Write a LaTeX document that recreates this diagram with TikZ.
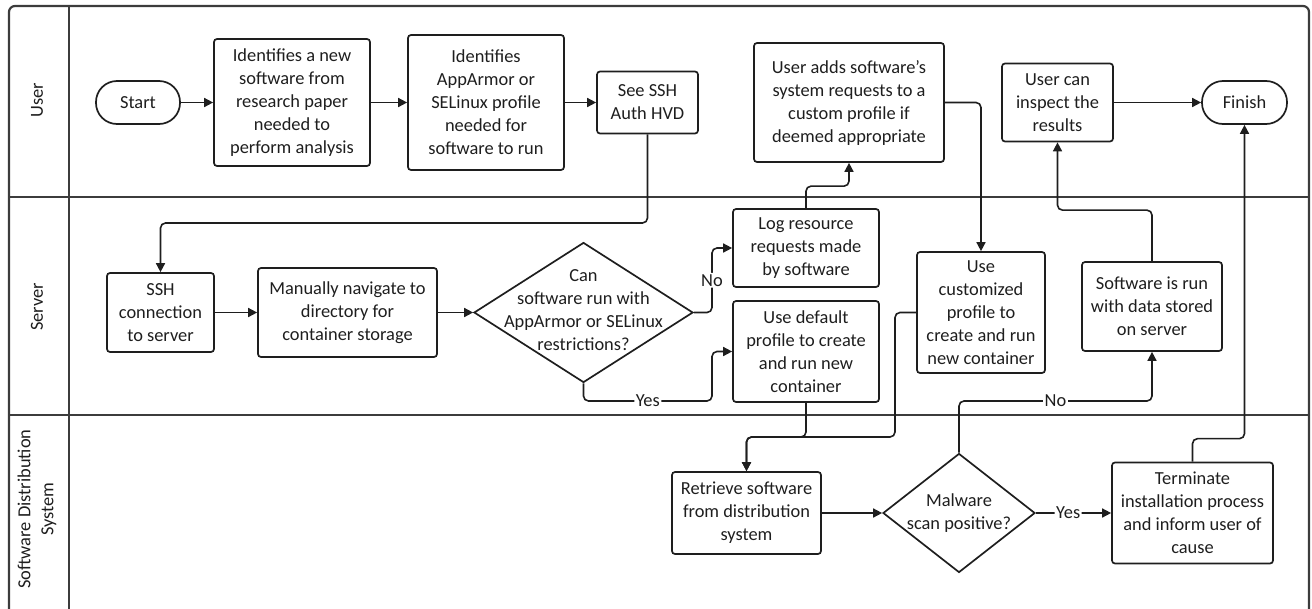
\documentclass[tikz,border=0pt]{standalone}
\usepackage{fontspec}
\setmainfont{Carlito}
\usetikzlibrary{arrows.meta,shapes.geometric}

\definecolor{ink}{HTML}{1E1E1E}
\definecolor{lanegray}{HTML}{3C3C3C}

\tikzset{
  base/.style={draw=ink, line width=1.7pt, align=center, text=ink, inner sep=2pt,
    font=\fontsize{18.4}{23}\selectfont},
  box/.style 2 args={base, rectangle, rounded corners=3pt,
    minimum width=#1pt, minimum height=#2pt},
  terminal/.style={base, rectangle, rounded corners=21pt,
    minimum width=85pt, minimum height=43pt},
  decision/.style 2 args={base, diamond, inner sep=0pt,
    minimum width=#1pt, minimum height=#2pt},
  plain/.style={align=center, text=ink, inner sep=0pt,
    font=\fontsize{18.4}{23}\selectfont},
  conn/.style={draw=ink, line width=1.6pt, rounded corners=5pt,
    -{Triangle[length=9pt,width=9pt]}},
  lbl/.style={fill=white, inner sep=1.5pt, text=ink,
    font=\fontsize{18.4}{23}\selectfont},
  lane/.style={draw=lanegray, line width=2.2pt},
  lanetitle/.style={rotate=90, align=center, text=ink,
    font=\fontsize{18.4}{23}\selectfont},
}

\begin{document}
\begin{tikzpicture}[x=1pt, y=-1pt]
  \useasboundingbox (0,0) rectangle (1312,608);
  \begin{scope}
    \clip (0,0) rectangle (1312,608);
    % swimlane frame and separators
    \draw[lane, rounded corners=6pt] (9,6) rectangle (1309,640);
    \draw[lane] (69,6) -- (69,640);
    \draw[lane] (9,197) -- (1309,197);
    \draw[lane] (9,415) -- (1309,415);
  \end{scope}

  % lane titles
  \node[lanetitle] (laneUser)   at (37,100) {User};
  \node[lanetitle] (laneServer) at (37,307) {Server};
  \node[lanetitle] (laneSDS)    at (37,509) {Software Distribution\\System};

  % user lane
  \node[terminal, minimum width=84pt] (start) at (138,102.5) {Start};
  \node[box={156}{127}] (ident) at (292,102.5)
    {Identifies a new\\software from\\research paper\\needed to\\perform analysis};
  \node[box={156}{135}] (profile) at (486,102.5)
    {Identifies\\AppArmor or\\SELinux profile\\needed for\\software to run};
  \node[box={101}{62}] (seessh) at (647.5,102.5) {See SSH\\Auth HVD};
  \node[box={190}{119}] (useradd) at (849,102.5)
    {User adds software's\\system requests to a\\custom profile if\\deemed appropriate};
  \node[box={111}{78}] (inspect) at (1057.5,102.5) {User can\\inspect the\\results};
  \node[terminal] (finish) at (1244.5,102.5) {Finish};

  % server lane
  \node[box={107}{79}] (sshconn) at (160.5,312.5) {SSH\\connection\\to server};
  \node[box={179}{89}] (nav) at (347.5,312.5)
    {Manually navigate to\\directory for\\container storage};
  \node[decision={219}{140}] (canrun) at (583.5,312.5) {};
  \node[plain] (canrunText) at (583.5,310)
    {Can\\software run with\\AppArmor or SELinux\\restrictions?};
  \node[box={146}{78}] (logres) at (806,248)
    {Log resource\\requests made\\by software};
  \node[box={146}{101}] (usedef) at (806,351.5)
    {Use default\\profile to create\\and run new\\container};
  \node[box={128}{121}] (usecust) at (981,312.5)
    {Use\\customized\\profile to\\create and run\\new container};
  \node[box={140}{89}] (swrun) at (1152,306.5)
    {Software is run\\with data stored\\on server};

  % software distribution lane
  \node[box={149}{82}] (retrieve) at (746.5,513)
    {Retrieve software\\from distribution\\system};
  \node[decision={152}{119}] (malware) at (959,513) {};
  \node[plain] (malwareText) at (959,513) {Malware\\scan positive?};
  \node[box={161}{101}] (terminate) at (1192.5,513)
    {Terminate\\installation process\\and inform user of\\cause};

  % turning levels of the routed connectors
  \coordinate (sshLevel) at (0,223);
  \coordinate (noX) at (712,0);
  \coordinate (yesLevel) at (0,401);
  \coordinate (mergeLevel) at (0,437);
  \coordinate (custX) at (895,0);

  % connectors
  \draw[conn] (start) -- (ident);
  \draw[conn] (ident) -- (profile);
  \draw[conn] (profile) -- (seessh);
  \draw[conn] (seessh.south) |- (sshLevel -| sshconn.north) -- (sshconn.north);
  \draw[conn] (sshconn) -- (nav);
  \draw[conn] (nav) -- (canrun);
  \draw[conn] (canrun.east) -| node[lbl, pos=0.75] {No} (noX |- logres.west) -- (logres.west);
  \draw[conn] (canrun.south) |- node[lbl, pos=0.75] {Yes} (noX |- yesLevel)
    |- (usedef.west);
  \draw[conn] (logres.north) -- ++(0,-22) -| (useradd.south);
  \draw[conn] (useradd.east) -| (usecust.north);
  \draw[conn] (usecust.west) -| (custX |- mergeLevel) -| (retrieve.north);
  \draw[conn] (usedef.south) |- (mergeLevel -| retrieve.north) -- (retrieve.north);
  \draw[conn] (retrieve) -- (malware);
  \draw[conn] (malware.north) |- node[lbl, pos=0.75] {No} (yesLevel -| swrun.south)
    -- (swrun.south);
  \draw[conn] (malware.east) -- node[lbl, pos=0.43] {Yes} (terminate.west);
  \draw[conn] (swrun.north) -- ++(0,-51) -| (inspect.south);
  \draw[conn] (terminate.north) -- ++(0,-23) -| (finish.south);
  \draw[conn] (inspect) -- (finish);
\end{tikzpicture}
\end{document}
